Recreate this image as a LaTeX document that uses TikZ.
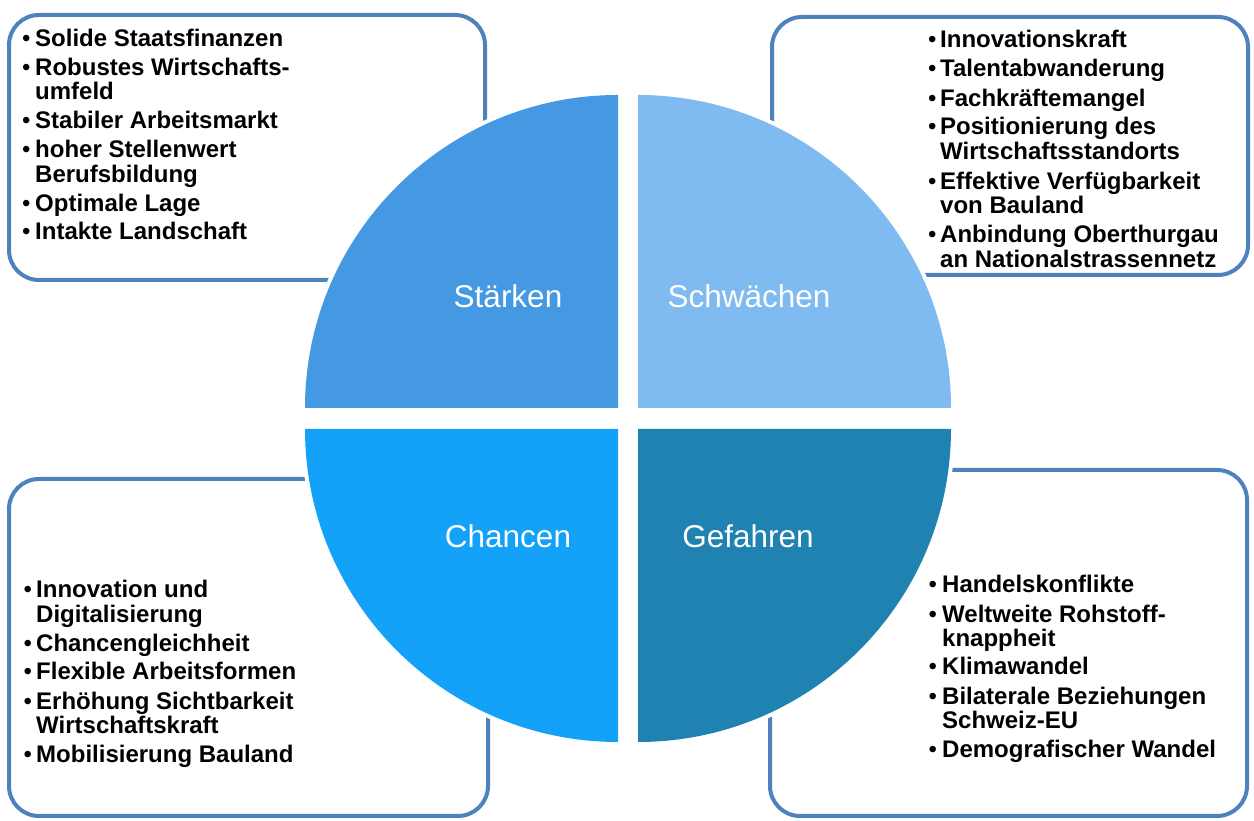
\documentclass[tikz,border=0pt]{standalone}
\usepackage{fontspec}
\setmainfont{Liberation Sans}
\definecolor{qTL}{RGB}{69,153,227}
\definecolor{qTR}{RGB}{127,186,240}
\definecolor{qBL}{RGB}{20,162,248}
\definecolor{qBR}{RGB}{31,130,176}
\definecolor{boxblue}{RGB}{79,129,189}
\begin{document}
\begin{tikzpicture}[x=1pt,y=1pt,
  listbox/.style={draw=boxblue, line width=4pt, fill=white, rounded corners=30pt, inner sep=0pt},
  quadout/.style={draw=white, line width=8pt, fill=white, line join=miter},
  itemtext/.style={anchor=base west, inner sep=0pt, font=\bfseries\fontsize{24}{25}\selectfont},
  bul/.style={anchor=base west, inner sep=0pt, font=\fontsize{24}{25}\selectfont},
  qlabel/.style={anchor=base, inner sep=0pt, text=white, font=\fontsize{31.5}{33}\selectfont}]
\useasboundingbox (0,0) rectangle (1254,821);
% boxes
\node[listbox, minimum width=476pt, minimum height=265pt] (boxTL) at (247,673.5) {};
\node[listbox, minimum width=476pt, minimum height=258pt] (boxTR) at (1010,675) {};
\node[listbox, minimum width=479pt, minimum height=337pt] (boxBL) at (248.5,173.5) {};
\node[listbox, minimum width=477pt, minimum height=346pt] (boxBR) at (1008.5,178) {};
% quadrant outlines (white halo)
\path[quadout] (618,413) -- (305,413) arc[start angle=180, end angle=90, radius=313] -- cycle;
\path[quadout] (638,413) -- (638,726) arc[start angle=90, end angle=0, radius=313] -- cycle;
\path[quadout] (618,392) -- (305,392) arc[start angle=180, end angle=270, radius=313] -- cycle;
\path[quadout] (638,392) -- (951,392) arc[start angle=0, end angle=-90, radius=313] -- cycle;
% quadrants
\fill[qTL] (618,413) -- (305,413) arc[start angle=180, end angle=90, radius=313] -- cycle;
\fill[qTR] (638,413) -- (638,726) arc[start angle=90, end angle=0, radius=313] -- cycle;
\fill[qBL] (618,392) -- (305,392) arc[start angle=180, end angle=270, radius=313] -- cycle;
\fill[qBR] (638,392) -- (951,392) arc[start angle=0, end angle=-90, radius=313] -- cycle;
% labels
\node[qlabel] (lS) at (508,513) {Stärken};
\node[qlabel] (lW) at (749,513) {Schwächen};
\node[qlabel] (lC) at (508,273) {Chancen};
\node[qlabel] (lG) at (748,273) {Gefahren};
% TL list
\foreach \tx/\yy [count=\i] in {Solide Staatsfinanzen/47, Robustes Wirtschafts-/76, umfeld/100, Stabiler Arbeitsmarkt/129, hoher Stellenwert/158, Berufsbildung/183, Optimale Lage/212, Intakte Landschaft/240}
  \node[itemtext] (tl\i) at (35,821-\yy) {\tx};
\foreach \yy [count=\i] in {47,76,129,158,212,240}
  \node[bul] (tlb\i) at (22,821-\yy) {•};
% TR list
\foreach \tx/\yy [count=\i] in {Innovationskraft/48, Talentabwanderung/77, Fachkräftemangel/107, Positionierung des/135, Wirtschaftsstandorts/160, Effektive Verfügbarkeit/190, von Bauland/214, Anbindung Oberthurgau/243, an Nationalstrassennetz/268}
  \node[itemtext] (tr\i) at (940,821-\yy) {\tx};
\foreach \yy [count=\i] in {48,77,107,135,190,243}
  \node[bul] (trb\i) at (928,821-\yy) {•};
% BL list
\foreach \tx/\yy [count=\i] in {Innovation und/598, Digitalisierung/623, Chancengleichheit/652, Flexible Arbeitsformen/680, Erhöhung Sichtbarkeit/710, Wirtschaftskraft/734, Mobilisierung Bauland/763}
  \node[itemtext] (bl\i) at (36,821-\yy) {\tx};
\foreach \yy [count=\i] in {598,652,680,710,763}
  \node[bul] (blb\i) at (23.5,821-\yy) {•};
% BR list
\foreach \tx/\yy [count=\i] in {Handelskonflikte/593, Weltweite Rohstoff-/623, knappheit/647, Klimawandel/675, Bilaterale Beziehungen/705, Schweiz-EU/729, Demografischer Wandel/758}
  \node[itemtext] (br\i) at (942,821-\yy) {\tx};
\foreach \yy [count=\i] in {593,623,675,705,758}
  \node[bul] (brb\i) at (928.5,821-\yy) {•};
\end{tikzpicture}
\end{document}
